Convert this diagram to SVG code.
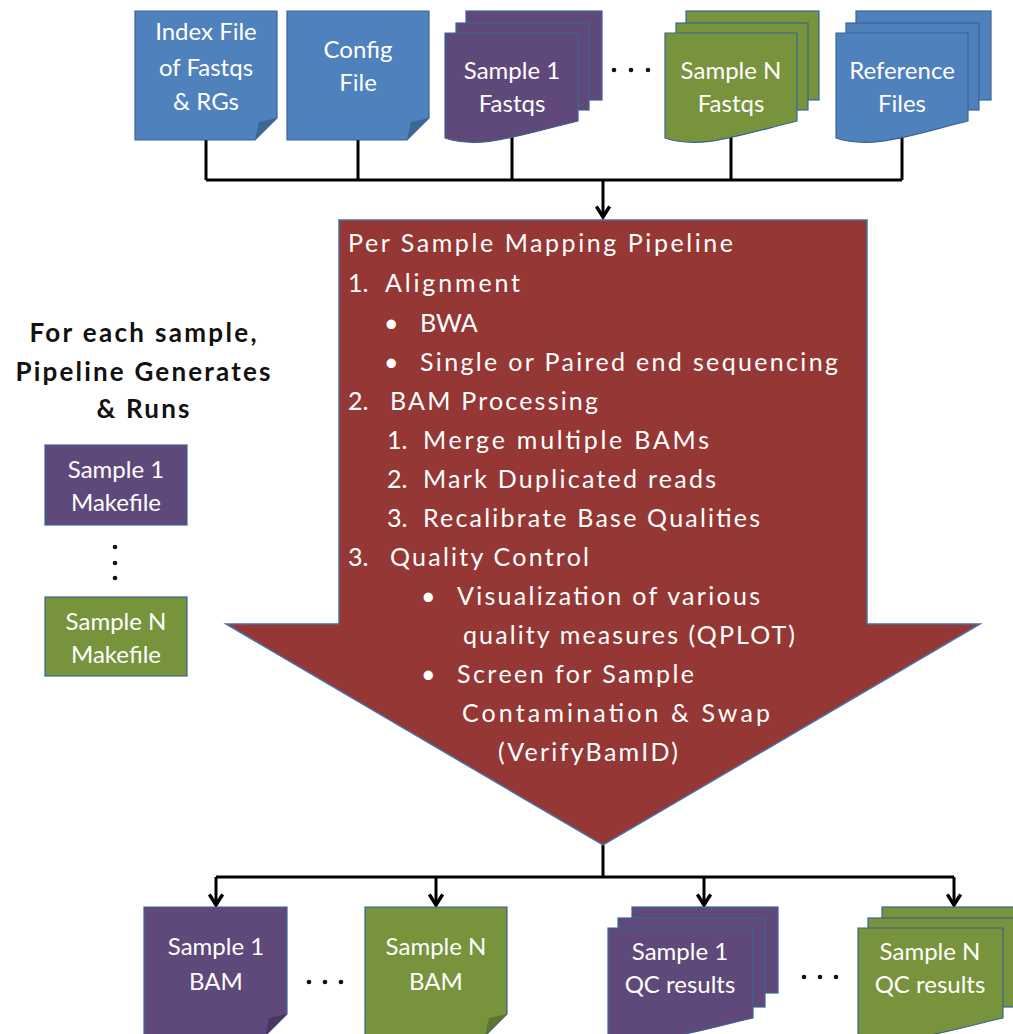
<svg xmlns="http://www.w3.org/2000/svg" width="1013" height="1034" viewBox="0 0 1013 1034">
<style>
.blue{fill:#4f81bd;stroke:#3a6494;stroke-width:1.2}
.purple{fill:#5f497a;stroke:#3a6494;stroke-width:1.2}
.green{fill:#77933c;stroke:#3a6494;stroke-width:1.2}
.fb{fill:#3e6796}.fp{fill:#4a3860}.fg{fill:#5d7530}
.t{font-family:Lato,"Open Sans",sans-serif;font-size:24px;fill:#fff;text-anchor:middle}
.r{font-family:Lato,"Open Sans",sans-serif;font-size:25px;fill:#fff}
.h{font-family:Lato,"Open Sans",sans-serif;font-size:26px;font-weight:bold;fill:#111;text-anchor:middle}
.c{fill:none;stroke:#000;stroke-width:3}
.dot{fill:#111}
</style>
<defs>
<marker id="ah" markerUnits="userSpaceOnUse" markerWidth="16" markerHeight="16" refX="10" refY="6" orient="auto" viewBox="0 0 12 12">
<path d="M2,1 L10,6 L2,11" fill="none" stroke="#000" stroke-width="2.6"/>
</marker>
</defs>

<g id="connectors">
<path class="c" d="M206,140 V180 M358,140 V180 M512,136 V180 M731,136 V180 M902,136 V180 M206,180 H902"/>
<path class="c" d="M603,180 V217" marker-end="url(#ah)"/>
<path class="c" d="M603,845 V877 M216,877 H954"/>
<path class="c" d="M216,877 V905" marker-end="url(#ah)"/>
<path class="c" d="M436,877 V905" marker-end="url(#ah)"/>
<path class="c" d="M704,877 V905" marker-end="url(#ah)"/>
<path class="c" d="M954,877 V905" marker-end="url(#ah)"/>
</g>

<g id="index-file">
<path class="blue" d="M135,11 H277 V118 L255,140 H135 Z"/>
<path class="fb" d="M277,118 L255,140 L259,122 Z"/>
<text class="t" x="206" y="40">Index File</text>
<text class="t" x="206" y="76">of Fastqs</text>
<text class="t" x="206" y="110">&amp; RGs</text>
</g>

<g id="config-file">
<path class="blue" d="M287,11 H429 V118 L407,140 H287 Z"/>
<path class="fb" d="M429,118 L407,140 L411,122 Z"/>
<text class="t" x="358" y="58">Config</text>
<text class="t" x="358" y="91">File</text>
</g>

<g id="sample1-fastqs">
<rect class="purple" x="466" y="11" width="136" height="89"/>
<rect class="purple" x="456" y="23" width="133" height="87"/>
<path class="purple" d="M445,33 H578 V121 C520,135 480,150 445,138 Z"/>
<text class="t" x="512" y="79">Sample 1</text>
<text class="t" x="512" y="112">Fastqs</text>
</g>

<g id="dots-top">
<circle class="dot" cx="614" cy="70" r="2.3"/><circle class="dot" cx="631" cy="70" r="2.3"/><circle class="dot" cx="648" cy="70" r="2.3"/>
</g>

<g id="sampleN-fastqs">
<rect class="green" x="686" y="11" width="133" height="89"/>
<rect class="green" x="676" y="23" width="132" height="87"/>
<path class="green" d="M665,33 H797 V121 C740,135 700,150 665,138 Z"/>
<text class="t" x="731" y="79">Sample N</text>
<text class="t" x="731" y="112">Fastqs</text>
</g>

<g id="reference-files">
<rect class="blue" x="856" y="11" width="135" height="89"/>
<rect class="blue" x="846" y="23" width="133" height="87"/>
<path class="blue" d="M836,33 H968 V121 C911,135 871,150 836,138 Z"/>
<text class="t" x="902" y="79">Reference</text>
<text class="t" x="902" y="112">Files</text>
</g>

<g id="pipeline">
<path d="M339,220 H867 V624 H980 L603,845 L226,624 H339 Z" fill="#953735" stroke="#4a6fa5" stroke-width="1.5"/>
<text class="r" x="348" y="252" textLength="385" lengthAdjust="spacing">Per Sample Mapping Pipeline</text>
<text class="r" x="348" y="292">1.</text><text class="r" x="385" y="292" textLength="135" lengthAdjust="spacing">Alignment</text>
<text class="r" x="384" y="332">•</text><text class="r" x="420" y="332">BWA</text>
<text class="r" x="384" y="371">•</text><text class="r" x="420" y="371" textLength="418" lengthAdjust="spacing">Single or Paired end sequencing</text>
<text class="r" x="348" y="410">2.</text><text class="r" x="390" y="410" textLength="208" lengthAdjust="spacing">BAM Processing</text>
<text class="r" x="387" y="449">1.</text><text class="r" x="423" y="449" textLength="286" lengthAdjust="spacing">Merge multiple BAMs</text>
<text class="r" x="387" y="488">2.</text><text class="r" x="423" y="488" textLength="293" lengthAdjust="spacing">Mark Duplicated reads</text>
<text class="r" x="387" y="527">3.</text><text class="r" x="423" y="527" textLength="337" lengthAdjust="spacing">Recalibrate Base Qualities</text>
<text class="r" x="348" y="566">3.</text><text class="r" x="390" y="566" textLength="199" lengthAdjust="spacing">Quality Control</text>
<text class="r" x="421" y="605">•</text><text class="r" x="457" y="605" textLength="303" lengthAdjust="spacing">Visualization of various</text>
<text class="r" x="463" y="644" textLength="332" lengthAdjust="spacing">quality measures (QPLOT)</text>
<text class="r" x="421" y="683">•</text><text class="r" x="457" y="683" textLength="237" lengthAdjust="spacing">Screen for Sample</text>
<text class="r" x="462" y="722" textLength="308" lengthAdjust="spacing">Contamination &amp; Swap</text>
<text class="r" x="498" y="761" textLength="180" lengthAdjust="spacing">(VerifyBamID)</text>
</g>

<g id="heading">
<text class="h" x="143" y="342" textLength="227" lengthAdjust="spacing">For each sample,</text>
<text class="h" x="143" y="381" textLength="255" lengthAdjust="spacing">Pipeline Generates</text>
<text class="h" x="143" y="418" textLength="93" lengthAdjust="spacing">&amp; Runs</text>
</g>

<g id="sample1-makefile">
<rect class="purple" x="45" y="445" width="142" height="80"/>
<text class="t" x="116" y="478">Sample 1</text>
<text class="t" x="116" y="511">Makefile</text>
</g>

<g id="dots-vertical">
<circle class="dot" cx="115" cy="547" r="2.3"/><circle class="dot" cx="115" cy="563" r="2.3"/><circle class="dot" cx="115" cy="578" r="2.3"/>
</g>

<g id="sampleN-makefile">
<rect class="green" x="45" y="597" width="142" height="79"/>
<text class="t" x="116" y="630">Sample N</text>
<text class="t" x="116" y="663">Makefile</text>
</g>

<g id="sample1-bam">
<path class="purple" d="M144,907 H287 V1014 L265,1036 H144 Z"/>
<path class="fp" d="M287,1014 L265,1036 L269,1018 Z"/>
<text class="t" x="216" y="955">Sample 1</text>
<text class="t" x="216" y="990">BAM</text>
</g>

<g id="dots-bam">
<circle class="dot" cx="309" cy="982" r="2.3"/><circle class="dot" cx="325" cy="982" r="2.3"/><circle class="dot" cx="341" cy="982" r="2.3"/>
</g>

<g id="sampleN-bam">
<path class="green" d="M365,907 H507 V1014 L485,1036 H365 Z"/>
<path class="fg" d="M507,1014 L485,1036 L489,1018 Z"/>
<text class="t" x="436" y="955">Sample N</text>
<text class="t" x="436" y="990">BAM</text>
</g>

<g id="sample1-qc">
<rect class="purple" x="632" y="907" width="146" height="86"/>
<rect class="purple" x="618" y="918" width="147" height="89"/>
<path class="purple" d="M608,928 H753 V1018 C700,1030 650,1048 608,1034 Z"/>
<text class="t" x="680" y="960">Sample 1</text>
<text class="t" x="680" y="993">QC results</text>
</g>

<g id="dots-qc">
<circle class="dot" cx="804" cy="977" r="2.3"/><circle class="dot" cx="820" cy="977" r="2.3"/><circle class="dot" cx="836" cy="977" r="2.3"/>
</g>

<g id="sampleN-qc">
<rect class="green" x="882" y="907" width="146" height="86"/>
<rect class="green" x="868" y="918" width="147" height="89"/>
<path class="green" d="M858,928 H1003 V1018 C950,1030 900,1048 858,1034 Z"/>
<text class="t" x="930" y="960">Sample N</text>
<text class="t" x="930" y="993">QC results</text>
</g>
</svg>
